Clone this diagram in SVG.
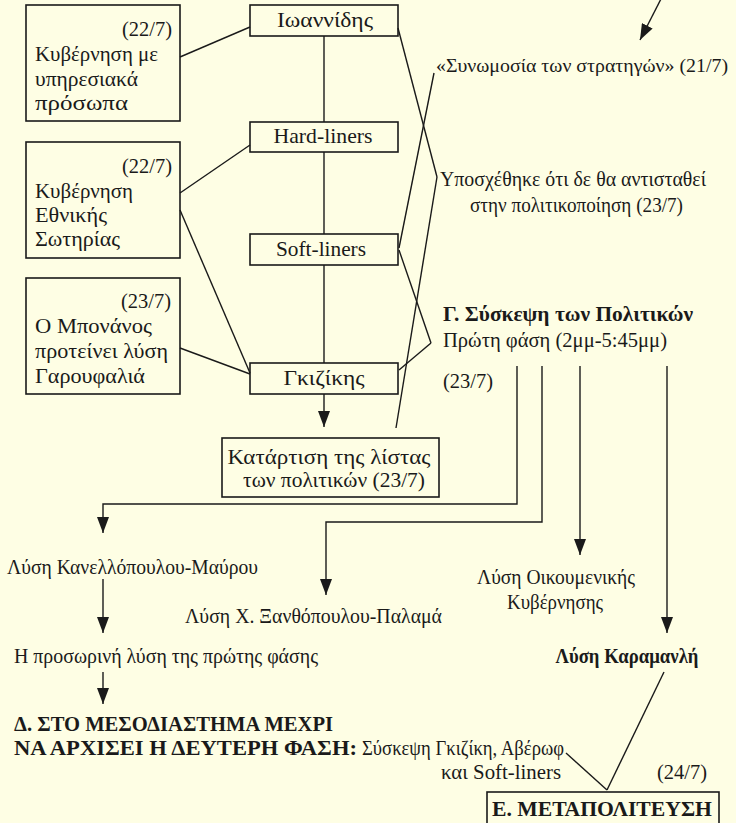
<svg xmlns="http://www.w3.org/2000/svg" width="736" height="823" viewBox="0 0 736 823">
<style>
.t{font-family:"Liberation Serif","DejaVu Serif","Times New Roman",serif;font-size:21px;fill:#1a1a1a}
.b{font-family:"Liberation Serif","DejaVu Serif","Times New Roman",serif;font-weight:bold;font-size:20px;fill:#1a1a1a}
.box{fill:none;stroke:#1a1a1a;stroke-width:1.6}
.ln{fill:none;stroke:#1a1a1a;stroke-width:1.4}
.ar{fill:none;stroke:#1a1a1a;stroke-width:1.4;marker-end:url(#ah)}
.m{text-anchor:middle}
.e{text-anchor:end}
</style>
<defs>
<marker id="ah" viewBox="0 0 16 12" markerWidth="16" markerHeight="12" refX="16" refY="6" orient="auto" markerUnits="userSpaceOnUse">
<path d="M0,0 L16,6 L0,12 z" fill="#1a1a1a"/>
</marker>
</defs>
<rect width="736" height="823" fill="#FEFEE4"/>

<g id="connectors">
<line class="ar" x1="663" y1="-5" x2="640" y2="40"/>
<line class="ln" x1="324" y1="36" x2="324" y2="122"/>
<line class="ln" x1="324" y1="152" x2="324" y2="234"/>
<line class="ln" x1="324" y1="265" x2="324" y2="363"/>
<line class="ar" x1="324" y1="394" x2="324" y2="427"/>
<line class="ln" x1="180" y1="57" x2="250" y2="27"/>
<line class="ln" x1="180" y1="193" x2="250" y2="145"/>
<line class="ln" x1="180" y1="210" x2="250" y2="373"/>
<line class="ln" x1="180" y1="348" x2="250" y2="374"/>
<line class="ln" x1="398" y1="28" x2="437" y2="177"/>
<line class="ln" x1="437" y1="177" x2="396" y2="428"/>
<line class="ln" x1="434" y1="73" x2="399" y2="248"/>
<line class="ln" x1="399" y1="250" x2="431" y2="343"/>
<line class="ln" x1="431" y1="343" x2="399" y2="370"/>
<path class="ar" d="M517,366 V504 H103 V533"/>
<path class="ar" d="M542,366 V522 H326 V595"/>
<line class="ar" x1="580" y1="366" x2="580" y2="555"/>
<line class="ar" x1="667" y1="366" x2="667" y2="633"/>
<line class="ar" x1="103" y1="579" x2="103" y2="633"/>
<line class="ar" x1="103" y1="672" x2="103" y2="704"/>
<line class="ln" x1="566" y1="753" x2="607" y2="790"/>
<line class="ln" x1="664" y1="672" x2="607" y2="790"/>
</g>

<g id="gov-service">
<rect class="box" x="26" y="5" width="154" height="116"/>
<text class="t e" x="172" y="36" textLength="50" lengthAdjust="spacingAndGlyphs">(22/7)</text>
<text class="t" x="35" y="61" textLength="123" lengthAdjust="spacingAndGlyphs">Κυβέρνηση με</text>
<text class="t" x="35" y="86" textLength="103" lengthAdjust="spacingAndGlyphs">υπηρεσιακά</text>
<text class="t" x="35" y="110" textLength="93" lengthAdjust="spacingAndGlyphs">πρόσωπα</text>
</g>
<g id="gov-national">
<rect class="box" x="26" y="142" width="154" height="116"/>
<text class="t e" x="172" y="173" textLength="50" lengthAdjust="spacingAndGlyphs">(22/7)</text>
<text class="t" x="35" y="198" textLength="98" lengthAdjust="spacingAndGlyphs">Κυβέρνηση</text>
<text class="t" x="35" y="222" textLength="72" lengthAdjust="spacingAndGlyphs">Εθνικής</text>
<text class="t" x="35" y="246" textLength="85" lengthAdjust="spacingAndGlyphs">Σωτηρίας</text>
</g>
<g id="bonanos">
<rect class="box" x="26" y="278" width="154" height="116"/>
<text class="t e" x="171" y="308" textLength="50" lengthAdjust="spacingAndGlyphs">(23/7)</text>
<text class="t" x="35" y="333" textLength="117" lengthAdjust="spacingAndGlyphs">Ο Μπονάνος</text>
<text class="t" x="35" y="358" textLength="133" lengthAdjust="spacingAndGlyphs">προτείνει λύση</text>
<text class="t" x="35" y="383" textLength="110" lengthAdjust="spacingAndGlyphs">Γαρουφαλιά</text>
</g>

<g id="ioannidis">
<rect class="box" x="250" y="5" width="148" height="31"/>
<text class="t m" x="325" y="27" textLength="96" lengthAdjust="spacingAndGlyphs">Ιωαννίδης</text>
</g>
<g id="hardliners">
<rect class="box" x="250" y="122" width="148" height="30"/>
<text class="t m" x="323" y="143" textLength="99" lengthAdjust="spacingAndGlyphs">Hard-liners</text>
</g>
<g id="softliners">
<rect class="box" x="250" y="234" width="148" height="31"/>
<text class="t m" x="321" y="256" textLength="90" lengthAdjust="spacingAndGlyphs">Soft-liners</text>
</g>
<g id="gkizikis">
<rect class="box" x="250" y="363" width="148" height="31"/>
<text class="t m" x="324" y="385" textLength="81" lengthAdjust="spacingAndGlyphs">Γκιζίκης</text>
</g>
<g id="list">
<rect class="box" x="222" y="438" width="217" height="59"/>
<text class="t m" x="329" y="464" textLength="203" lengthAdjust="spacingAndGlyphs">Κατάρτιση της λίστας</text>
<text class="t m" x="334" y="487" textLength="182" lengthAdjust="spacingAndGlyphs">των πολιτικών (23/7)</text>
</g>

<g id="conspiracy">
<text class="t" x="436" y="72" textLength="292" lengthAdjust="spacingAndGlyphs" style="font-size:19.5px">«Συνωμοσία των στρατηγών» (21/7)</text>
</g>
<g id="promise">
<text class="t" x="440" y="186" textLength="266" lengthAdjust="spacingAndGlyphs">Υποσχέθηκε ότι δε θα αντισταθεί</text>
<text class="t" x="470" y="212" textLength="213" lengthAdjust="spacingAndGlyphs">στην πολιτικοποίηση (23/7)</text>
</g>
<g id="meeting">
<text class="b" x="443" y="321" textLength="250" lengthAdjust="spacingAndGlyphs">Γ. Σύσκεψη των Πολιτικών</text>
<text class="t" x="443" y="347" textLength="224" lengthAdjust="spacingAndGlyphs">Πρώτη φάση (2μμ-5:45μμ)</text>
<text class="t" x="443" y="388" textLength="50" lengthAdjust="spacingAndGlyphs">(23/7)</text>
</g>

<g id="kanellopoulos">
<text class="t" x="7" y="574" textLength="251" lengthAdjust="spacingAndGlyphs">Λύση Κανελλόπουλου-Μαύρου</text>
</g>
<g id="xanthopoulos">
<text class="t" x="185" y="623" textLength="257" lengthAdjust="spacingAndGlyphs">Λύση Χ. Ξανθόπουλου-Παλαμά</text>
</g>
<g id="ecumenical">
<text class="t m" x="556" y="584" textLength="158" lengthAdjust="spacingAndGlyphs">Λύση Οικουμενικής</text>
<text class="t m" x="555" y="609" textLength="96" lengthAdjust="spacingAndGlyphs">Κυβέρνησης</text>
</g>
<g id="karamanlis">
<text class="b m" x="627" y="663" textLength="143" lengthAdjust="spacingAndGlyphs">Λύση Καραμανλή</text>
</g>
<g id="provisional">
<text class="t" x="14" y="663" textLength="304" lengthAdjust="spacingAndGlyphs">Η προσωρινή λύση της πρώτης φάσης</text>
</g>
<g id="interval">
<text class="b" x="14" y="731" textLength="319" lengthAdjust="spacingAndGlyphs">Δ. ΣΤΟ ΜΕΣΟΔΙΑΣΤΗΜΑ ΜΕΧΡΙ</text>
<text class="b" x="14" y="755" textLength="343" lengthAdjust="spacingAndGlyphs">ΝΑ ΑΡΧΙΣΕΙ Η ΔΕΥΤΕΡΗ ΦΑΣΗ:</text>
<text class="t" x="362" y="755" textLength="202" lengthAdjust="spacingAndGlyphs">Σύσκεψη Γκιζίκη, Αβέρωφ</text>
<text class="t" x="441" y="779" textLength="120" lengthAdjust="spacingAndGlyphs">και Soft-liners</text>
</g>
<g id="metapolitefsi">
<text class="t" x="657" y="779" textLength="50" lengthAdjust="spacingAndGlyphs">(24/7)</text>
<rect class="box" x="487" y="792" width="232" height="40"/>
<text class="b" x="492" y="816" textLength="220" lengthAdjust="spacingAndGlyphs" style="font-size:21px">Ε. ΜΕΤΑΠΟΛΙΤΕΥΣΗ</text>
</g>
</svg>
